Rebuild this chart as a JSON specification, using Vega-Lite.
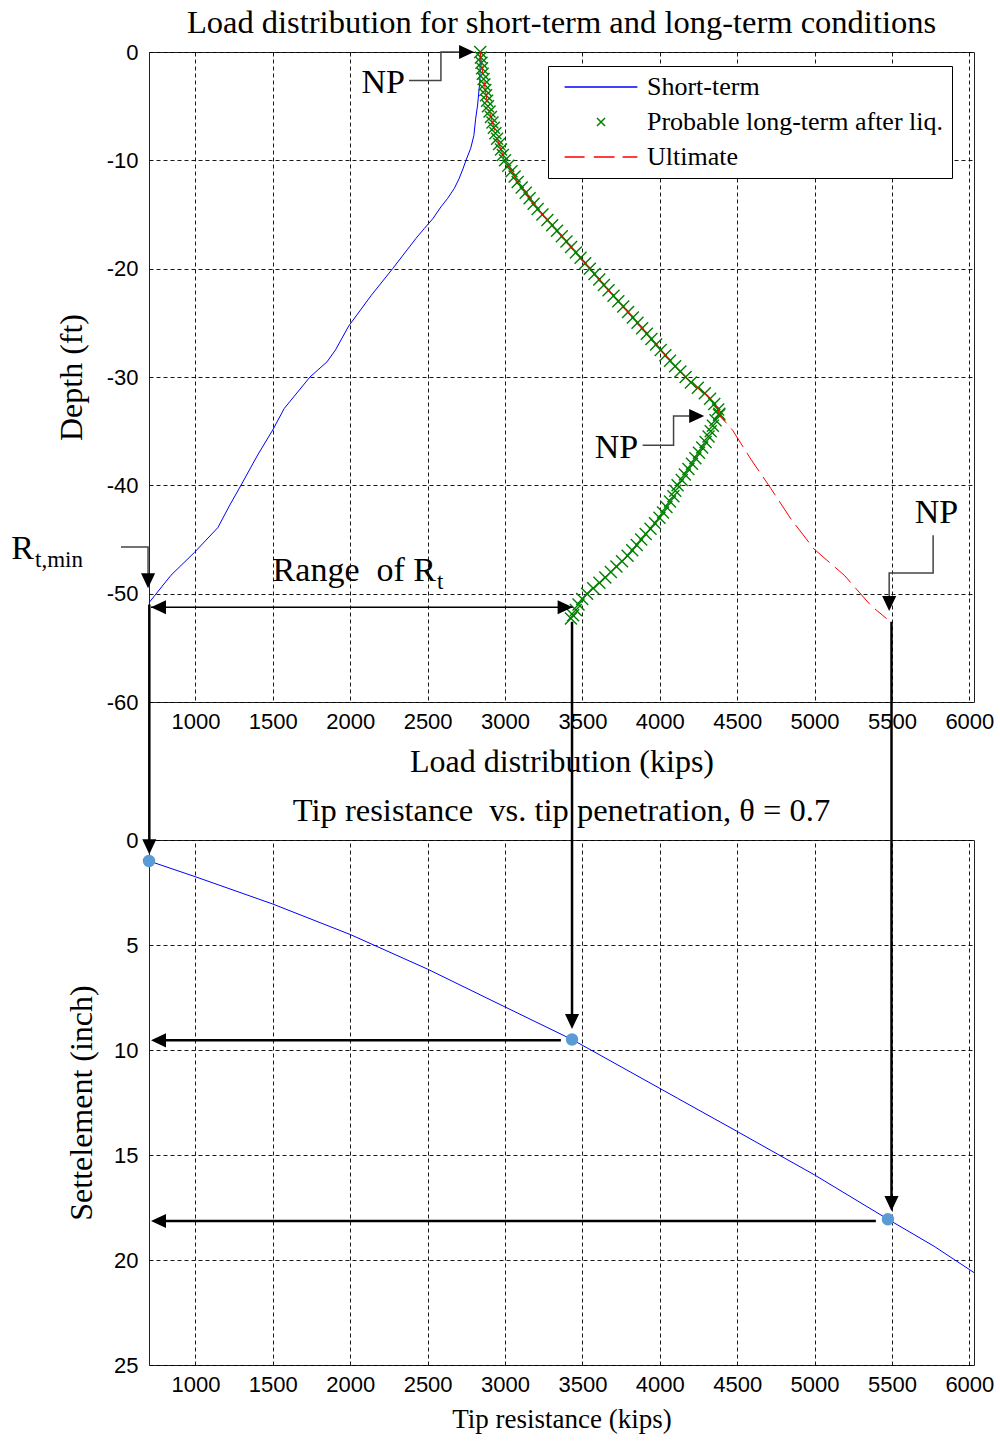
{
  "$schema": "https://vega.github.io/schema/vega-lite/v6.json",
  "background": "white",
  "padding": {"left": 10, "top": 6, "right": 5, "bottom": 5},
  "bounds": "flush",
  "spacing": 138,
  "config": {
    "view": {"stroke": "#222", "strokeWidth": 1},
    "axis": {
      "grid": true, "gridColor": "black", "gridDash": [4, 3], "gridOpacity": 0.9, "gridWidth": 1,
      "domain": false, "ticks": false,
      "labelFont": "Liberation Sans", "labelFontSize": 22, "labelColor": "black", "labelPadding": 9,
      "titleFont": "Liberation Serif", "titleFontSize": 32, "titleFontWeight": "normal", "titleColor": "black"
    },
    "axisY": {"labelPadding": 11},
    "title": {"font": "Liberation Serif", "fontSize": 32.5, "fontWeight": "normal", "color": "black", "offset": 2, "anchor": "middle", "frame": "group"},
    "legend": {
      "orient": "none", "legendX": 399, "legendY": 14,
      "strokeColor": "black", "fillColor": "white", "padding": 8,
      "labelFont": "Liberation Serif", "labelFontSize": 26, "labelColor": "black", "labelLimit": 500,
      "symbolSize": 64, "symbolStrokeWidth": 1.5, "symbolOffset": 32, "labelOffset": 33, "rowPadding": 9
    }
  },
  "datasets": {
    "load": [
      {"series": "Short-term", "kips": 2840, "depth": 0},
      {"series": "Short-term", "kips": 2838, "depth": -2.6},
      {"series": "Short-term", "kips": 2823, "depth": -4.9},
      {"series": "Short-term", "kips": 2810, "depth": -6.2},
      {"series": "Short-term", "kips": 2799, "depth": -7.7},
      {"series": "Short-term", "kips": 2778, "depth": -8.9},
      {"series": "Short-term", "kips": 2748, "depth": -10.0},
      {"series": "Short-term", "kips": 2728, "depth": -10.8},
      {"series": "Short-term", "kips": 2703, "depth": -11.7},
      {"series": "Short-term", "kips": 2672, "depth": -12.6},
      {"series": "Short-term", "kips": 2630, "depth": -13.5},
      {"series": "Short-term", "kips": 2586, "depth": -14.3},
      {"series": "Short-term", "kips": 2533, "depth": -15.4},
      {"series": "Short-term", "kips": 2478, "depth": -16.3},
      {"series": "Short-term", "kips": 2425, "depth": -17.2},
      {"series": "Short-term", "kips": 2371, "depth": -18.2},
      {"series": "Short-term", "kips": 2274, "depth": -20.0},
      {"series": "Short-term", "kips": 2134, "depth": -22.5},
      {"series": "Short-term", "kips": 1990, "depth": -25.3},
      {"series": "Short-term", "kips": 1905, "depth": -27.5},
      {"series": "Short-term", "kips": 1850, "depth": -28.6},
      {"series": "Short-term", "kips": 1740, "depth": -30.0},
      {"series": "Short-term", "kips": 1574, "depth": -32.9},
      {"series": "Short-term", "kips": 1499, "depth": -34.9},
      {"series": "Short-term", "kips": 1402, "depth": -37.2},
      {"series": "Short-term", "kips": 1294, "depth": -40.0},
      {"series": "Short-term", "kips": 1219, "depth": -41.9},
      {"series": "Short-term", "kips": 1145, "depth": -43.9},
      {"series": "Short-term", "kips": 993, "depth": -46.2},
      {"series": "Short-term", "kips": 842, "depth": -48.3},
      {"series": "Short-term", "kips": 702, "depth": -50.8},

      {"series": "Ultimate", "kips": 2840, "depth": 0},
      {"series": "Ultimate", "kips": 2855, "depth": -1.85},
      {"series": "Ultimate", "kips": 2888, "depth": -4.9},
      {"series": "Ultimate", "kips": 2942, "depth": -7.7},
      {"series": "Ultimate", "kips": 2995, "depth": -9.85},
      {"series": "Ultimate", "kips": 3082, "depth": -12.0},
      {"series": "Ultimate", "kips": 3211, "depth": -14.5},
      {"series": "Ultimate", "kips": 3361, "depth": -16.9},
      {"series": "Ultimate", "kips": 3512, "depth": -19.4},
      {"series": "Ultimate", "kips": 3663, "depth": -21.9},
      {"series": "Ultimate", "kips": 3814, "depth": -24.3},
      {"series": "Ultimate", "kips": 3964, "depth": -26.8},
      {"series": "Ultimate", "kips": 4072, "depth": -28.6},
      {"series": "Ultimate", "kips": 4201, "depth": -30.5},
      {"series": "Ultimate", "kips": 4309, "depth": -31.7},
      {"series": "Ultimate", "kips": 4374, "depth": -32.9},
      {"series": "Ultimate", "kips": 4390, "depth": -33.6},
      {"series": "Ultimate", "kips": 4470, "depth": -34.9},
      {"series": "Ultimate", "kips": 4589, "depth": -37.6},
      {"series": "Ultimate", "kips": 4718, "depth": -40.3},
      {"series": "Ultimate", "kips": 4847, "depth": -43.1},
      {"series": "Ultimate", "kips": 4998, "depth": -45.9},
      {"series": "Ultimate", "kips": 5192, "depth": -48.3},
      {"series": "Ultimate", "kips": 5364, "depth": -51.1},
      {"series": "Ultimate", "kips": 5465, "depth": -52.3},

      {"series": "Probable long-term after liq.", "kips": 2840, "depth": 0},
      {"series": "Probable long-term after liq.", "kips": 2844, "depth": -0.5},
      {"series": "Probable long-term after liq.", "kips": 2848, "depth": -1.0},
      {"series": "Probable long-term after liq.", "kips": 2852, "depth": -1.5},
      {"series": "Probable long-term after liq.", "kips": 2856, "depth": -2.0},
      {"series": "Probable long-term after liq.", "kips": 2862, "depth": -2.5},
      {"series": "Probable long-term after liq.", "kips": 2867, "depth": -3.0},
      {"series": "Probable long-term after liq.", "kips": 2873, "depth": -3.5},
      {"series": "Probable long-term after liq.", "kips": 2878, "depth": -4.0},
      {"series": "Probable long-term after liq.", "kips": 2884, "depth": -4.5},
      {"series": "Probable long-term after liq.", "kips": 2890, "depth": -5.0},
      {"series": "Probable long-term after liq.", "kips": 2900, "depth": -5.5},
      {"series": "Probable long-term after liq.", "kips": 2909, "depth": -6.0},
      {"series": "Probable long-term after liq.", "kips": 2919, "depth": -6.5},
      {"series": "Probable long-term after liq.", "kips": 2928, "depth": -7.0},
      {"series": "Probable long-term after liq.", "kips": 2938, "depth": -7.5},
      {"series": "Probable long-term after liq.", "kips": 2949, "depth": -8.0},
      {"series": "Probable long-term after liq.", "kips": 2962, "depth": -8.5},
      {"series": "Probable long-term after liq.", "kips": 2974, "depth": -9.0},
      {"series": "Probable long-term after liq.", "kips": 2986, "depth": -9.5},
      {"series": "Probable long-term after liq.", "kips": 3000, "depth": -10.0},
      {"series": "Probable long-term after liq.", "kips": 3021, "depth": -10.5},
      {"series": "Probable long-term after liq.", "kips": 3042, "depth": -11.0},
      {"series": "Probable long-term after liq.", "kips": 3062, "depth": -11.5},
      {"series": "Probable long-term after liq.", "kips": 3082, "depth": -12.0},
      {"series": "Probable long-term after liq.", "kips": 3108, "depth": -12.5},
      {"series": "Probable long-term after liq.", "kips": 3134, "depth": -13.0},
      {"series": "Probable long-term after liq.", "kips": 3159, "depth": -13.5},
      {"series": "Probable long-term after liq.", "kips": 3185, "depth": -14.0},
      {"series": "Probable long-term after liq.", "kips": 3211, "depth": -14.5},
      {"series": "Probable long-term after liq.", "kips": 3242, "depth": -15.0},
      {"series": "Probable long-term after liq.", "kips": 3274, "depth": -15.5},
      {"series": "Probable long-term after liq.", "kips": 3305, "depth": -16.0},
      {"series": "Probable long-term after liq.", "kips": 3336, "depth": -16.5},
      {"series": "Probable long-term after liq.", "kips": 3367, "depth": -17.0},
      {"series": "Probable long-term after liq.", "kips": 3397, "depth": -17.5},
      {"series": "Probable long-term after liq.", "kips": 3427, "depth": -18.0},
      {"series": "Probable long-term after liq.", "kips": 3458, "depth": -18.5},
      {"series": "Probable long-term after liq.", "kips": 3488, "depth": -19.0},
      {"series": "Probable long-term after liq.", "kips": 3518, "depth": -19.5},
      {"series": "Probable long-term after liq.", "kips": 3548, "depth": -20.0},
      {"series": "Probable long-term after liq.", "kips": 3578, "depth": -20.5},
      {"series": "Probable long-term after liq.", "kips": 3609, "depth": -21.0},
      {"series": "Probable long-term after liq.", "kips": 3639, "depth": -21.5},
      {"series": "Probable long-term after liq.", "kips": 3669, "depth": -22.0},
      {"series": "Probable long-term after liq.", "kips": 3701, "depth": -22.5},
      {"series": "Probable long-term after liq.", "kips": 3732, "depth": -23.0},
      {"series": "Probable long-term after liq.", "kips": 3764, "depth": -23.5},
      {"series": "Probable long-term after liq.", "kips": 3795, "depth": -24.0},
      {"series": "Probable long-term after liq.", "kips": 3826, "depth": -24.5},
      {"series": "Probable long-term after liq.", "kips": 3856, "depth": -25.0},
      {"series": "Probable long-term after liq.", "kips": 3886, "depth": -25.5},
      {"series": "Probable long-term after liq.", "kips": 3916, "depth": -26.0},
      {"series": "Probable long-term after liq.", "kips": 3946, "depth": -26.5},
      {"series": "Probable long-term after liq.", "kips": 3976, "depth": -27.0},
      {"series": "Probable long-term after liq.", "kips": 4006, "depth": -27.5},
      {"series": "Probable long-term after liq.", "kips": 4036, "depth": -28.0},
      {"series": "Probable long-term after liq.", "kips": 4066, "depth": -28.5},
      {"series": "Probable long-term after liq.", "kips": 4099, "depth": -29.0},
      {"series": "Probable long-term after liq.", "kips": 4133, "depth": -29.5},
      {"series": "Probable long-term after liq.", "kips": 4167, "depth": -30.0},
      {"series": "Probable long-term after liq.", "kips": 4201, "depth": -30.5},
      {"series": "Probable long-term after liq.", "kips": 4246, "depth": -31.0},
      {"series": "Probable long-term after liq.", "kips": 4291, "depth": -31.5},
      {"series": "Probable long-term after liq.", "kips": 4325, "depth": -32.0},
      {"series": "Probable long-term after liq.", "kips": 4352, "depth": -32.5},
      {"series": "Probable long-term after liq.", "kips": 4377, "depth": -33.0},
      {"series": "Probable long-term after liq.", "kips": 4385, "depth": -33.4},
      {"series": "Probable long-term after liq.", "kips": 4383, "depth": -33.5},
      {"series": "Probable long-term after liq.", "kips": 4360, "depth": -34.0},
      {"series": "Probable long-term after liq.", "kips": 4343, "depth": -34.5},
      {"series": "Probable long-term after liq.", "kips": 4329, "depth": -35.0},
      {"series": "Probable long-term after liq.", "kips": 4315, "depth": -35.5},
      {"series": "Probable long-term after liq.", "kips": 4296, "depth": -36.0},
      {"series": "Probable long-term after liq.", "kips": 4274, "depth": -36.5},
      {"series": "Probable long-term after liq.", "kips": 4253, "depth": -37.0},
      {"series": "Probable long-term after liq.", "kips": 4230, "depth": -37.5},
      {"series": "Probable long-term after liq.", "kips": 4208, "depth": -38.0},
      {"series": "Probable long-term after liq.", "kips": 4185, "depth": -38.5},
      {"series": "Probable long-term after liq.", "kips": 4162, "depth": -39.0},
      {"series": "Probable long-term after liq.", "kips": 4142, "depth": -39.5},
      {"series": "Probable long-term after liq.", "kips": 4115, "depth": -40.0},
      {"series": "Probable long-term after liq.", "kips": 4100, "depth": -40.5},
      {"series": "Probable long-term after liq.", "kips": 4088, "depth": -41.0},
      {"series": "Probable long-term after liq.", "kips": 4066, "depth": -41.5},
      {"series": "Probable long-term after liq.", "kips": 4043, "depth": -42.0},
      {"series": "Probable long-term after liq.", "kips": 4021, "depth": -42.5},
      {"series": "Probable long-term after liq.", "kips": 3998, "depth": -43.0},
      {"series": "Probable long-term after liq.", "kips": 3969, "depth": -43.5},
      {"series": "Probable long-term after liq.", "kips": 3940, "depth": -44.0},
      {"series": "Probable long-term after liq.", "kips": 3909, "depth": -44.5},
      {"series": "Probable long-term after liq.", "kips": 3880, "depth": -45.0},
      {"series": "Probable long-term after liq.", "kips": 3851, "depth": -45.5},
      {"series": "Probable long-term after liq.", "kips": 3822, "depth": -46.0},
      {"series": "Probable long-term after liq.", "kips": 3792, "depth": -46.5},
      {"series": "Probable long-term after liq.", "kips": 3756, "depth": -47.0},
      {"series": "Probable long-term after liq.", "kips": 3720, "depth": -47.5},
      {"series": "Probable long-term after liq.", "kips": 3684, "depth": -48.0},
      {"series": "Probable long-term after liq.", "kips": 3648, "depth": -48.5},
      {"series": "Probable long-term after liq.", "kips": 3610, "depth": -49.0},
      {"series": "Probable long-term after liq.", "kips": 3570, "depth": -49.5},
      {"series": "Probable long-term after liq.", "kips": 3530, "depth": -50.0},
      {"series": "Probable long-term after liq.", "kips": 3499, "depth": -50.5},
      {"series": "Probable long-term after liq.", "kips": 3475, "depth": -51.0},
      {"series": "Probable long-term after liq.", "kips": 3458, "depth": -51.5},
      {"series": "Probable long-term after liq.", "kips": 3440, "depth": -52.0},
      {"series": "Probable long-term after liq.", "kips": 3426, "depth": -52.3}
    ],
    "connectors": [
      {"id": 1, "o": 1, "kips": 2380, "depth": -2.62},
      {"id": 1, "o": 2, "kips": 2586, "depth": -2.62},
      {"id": 1, "o": 3, "kips": 2586, "depth": 0},
      {"id": 1, "o": 4, "kips": 2785, "depth": 0},
      {"id": 2, "o": 1, "kips": 3889, "depth": -36.3},
      {"id": 2, "o": 2, "kips": 4089, "depth": -36.3},
      {"id": 2, "o": 3, "kips": 4089, "depth": -33.6},
      {"id": 2, "o": 4, "kips": 4270, "depth": -33.6},
      {"id": 3, "o": 1, "kips": 5766, "depth": -44.6},
      {"id": 3, "o": 2, "kips": 5766, "depth": -48.1},
      {"id": 3, "o": 3, "kips": 5482, "depth": -48.1},
      {"id": 3, "o": 4, "kips": 5482, "depth": -50.5},
      {"id": 4, "o": 1, "kips": 519, "depth": -45.7},
      {"id": 4, "o": 2, "kips": 694, "depth": -45.7},
      {"id": 4, "o": 3, "kips": 694, "depth": -48.5}
    ],
    "rangeLine": [{"kips": 713, "kips2": 3437, "depth": -51.25}],
    "drops": [
      {"kips": 702, "depth": -51.0, "depth2": -73.5},
      {"kips": 3433, "depth": -52.6, "depth2": -89.8},
      {"kips": 5497, "depth": -52.6, "depth2": -106.4}
    ],
    "arrowsTop": [
      {"dir": "right", "kips": 2800, "depth": 0},
      {"dir": "right", "kips": 4287, "depth": -33.6},
      {"dir": "right", "kips": 3437, "depth": -51.25},
      {"dir": "left", "kips": 713, "depth": -51.25},
      {"dir": "down", "kips": 5482, "depth": -51.6},
      {"dir": "down", "kips": 694, "depth": -49.5}
    ],
    "bigText": [
      {"text": "NP", "kips": 2354, "depth": -3.76},
      {"text": "NP", "kips": 3861, "depth": -37.49},
      {"text": "NP", "kips": 5928, "depth": -43.46},
      {"text": "R", "kips": -43, "depth": -46.78},
      {"text": "Range\u00a0 of R", "kips": 2554, "depth": -48.79}
    ],
    "subText": [
      {"text": "t,min", "kips": -36, "depth": -47.55},
      {"text": "t", "kips": 2560, "depth": -49.55}
    ],
    "settle": [
      {"kips": 700, "s": 1.0},
      {"kips": 1000, "s": 1.75},
      {"kips": 1500, "s": 3.05},
      {"kips": 2000, "s": 4.5},
      {"kips": 2500, "s": 6.15},
      {"kips": 3000, "s": 7.95},
      {"kips": 3433, "s": 9.5},
      {"kips": 3750, "s": 10.8},
      {"kips": 4115, "s": 12.3},
      {"kips": 4481, "s": 13.8},
      {"kips": 5000, "s": 15.95},
      {"kips": 5474, "s": 18.06},
      {"kips": 5773, "s": 19.35},
      {"kips": 6030, "s": 20.6}
    ],
    "guides": [
      {"kips": 3361, "s": 9.54, "kips2": 760, "s2": 9.54},
      {"kips": 5396, "s": 18.14, "kips2": 760, "s2": 18.14}
    ],
    "tips": [
      {"kips": 700, "s": 1.0},
      {"kips": 3433, "s": 9.5},
      {"kips": 5474, "s": 18.06}
    ],
    "arrowsBottom": [
      {"dir": "down", "kips": 702, "s": 0.68},
      {"dir": "down", "kips": 3433, "s": 9.0},
      {"dir": "down", "kips": 5497, "s": 17.67},
      {"dir": "left", "kips": 713, "s": 9.54},
      {"dir": "left", "kips": 713, "s": 18.14}
    ]
  },
  "vconcat": [
    {
      "width": 825,
      "height": 650,
      "title": {"text": "Load distribution for short-term and long-term conditions"},
      "encoding": {
        "x": {"field": "kips", "type": "quantitative",
          "scale": {"domain": [700, 6030], "nice": false, "zero": false},
          "axis": {"title": "Load distribution (kips)", "titlePadding": 14, "values": [1000, 1500, 2000, 2500, 3000, 3500, 4000, 4500, 5000, 5500, 6000], "labelExpr": "'' + datum.value"}},
        "y": {"field": "depth", "type": "quantitative",
          "scale": {"domain": [-60, 0], "nice": false, "zero": false},
          "axis": {"title": "Depth (ft)", "titlePadding": 18, "values": [-60, -50, -40, -30, -20, -10, 0], "labelExpr": "'' + datum.value"}}
      },
      "layer": [
        {
          "data": {"name": "load"},
          "transform": [{"filter": "datum.series === 'Short-term'"}],
          "mark": {"type": "line", "strokeWidth": 1, "clip": false},
          "encoding": {
            "order": {"field": "depth", "sort": "descending"},
            "color": {"field": "series", "type": "nominal",
              "scale": {"domain": ["Short-term", "Probable long-term after liq.", "Ultimate"], "range": ["#0000ff", "#008000", "#ff0000"]},
              "legend": {"title": null}}
          }
        },
        {
          "data": {"name": "load"},
          "transform": [{"filter": "datum.series === 'Probable long-term after liq.'"}],
          "mark": {"type": "point", "filled": false, "strokeWidth": 1.4, "opacity": 1, "size": 144},
          "encoding": {
            "color": {"field": "series", "type": "nominal",
              "scale": {"domain": ["Short-term", "Probable long-term after liq.", "Ultimate"], "range": ["#0000ff", "#008000", "#ff0000"]},
              "legend": {"title": null}},
            "shape": {"field": "series", "type": "nominal",
              "scale": {"domain": ["Short-term", "Probable long-term after liq.", "Ultimate"],
                "range": ["M-9.1,0H9.1", "M-1,-1L1,1M-1,1L1,-1", "M-9.1,0H-4.1M-1.8,0H3.4M5.4,0H9.1"]},
              "legend": {"title": null}}
          }
        },
        {
          "data": {"name": "load"},
          "transform": [{"filter": "datum.series === 'Ultimate'"}],
          "mark": {"type": "line", "strokeWidth": 1, "strokeDash": [22, 7]},
          "encoding": {
            "order": {"field": "depth", "sort": "descending"},
            "color": {"field": "series", "type": "nominal",
              "scale": {"domain": ["Short-term", "Probable long-term after liq.", "Ultimate"], "range": ["#0000ff", "#008000", "#ff0000"]},
              "legend": {"title": null}}
          }
        },
        {
          "data": {"name": "connectors"},
          "mark": {"type": "line", "color": "#444", "strokeWidth": 1.5, "clip": false},
          "encoding": {
            "detail": {"field": "id", "type": "nominal"},
            "order": {"field": "o", "type": "quantitative"}
          }
        },
        {
          "data": {"name": "rangeLine"},
          "mark": {"type": "rule", "color": "black", "strokeWidth": 1.5},
          "encoding": {"x2": {"field": "kips2"}}
        },
        {
          "data": {"name": "drops"},
          "mark": {"type": "rule", "color": "black", "strokeWidth": 2.5, "clip": false},
          "encoding": {"y2": {"field": "depth2"}}
        },
        {
          "data": {"name": "arrowsTop"},
          "transform": [{"filter": "datum.dir === 'right'"}],
          "mark": {"type": "point", "filled": true, "color": "black", "opacity": 1, "size": 900, "shape": "M0,0L-1,-0.47L-1,0.47Z"}
        },
        {
          "data": {"name": "arrowsTop"},
          "transform": [{"filter": "datum.dir === 'left'"}],
          "mark": {"type": "point", "filled": true, "color": "black", "opacity": 1, "size": 900, "shape": "M0,0L1,-0.47L1,0.47Z"}
        },
        {
          "data": {"name": "arrowsTop"},
          "transform": [{"filter": "datum.dir === 'down'"}],
          "mark": {"type": "point", "filled": true, "color": "black", "opacity": 1, "size": 900, "shape": "M0,0L-0.47,-1L0.47,-1Z"}
        },
        {
          "data": {"name": "bigText"},
          "mark": {"type": "text", "font": "Liberation Serif", "fontSize": 34, "align": "right", "baseline": "alphabetic", "color": "black", "clip": false},
          "encoding": {"text": {"field": "text"}}
        },
        {
          "data": {"name": "subText"},
          "mark": {"type": "text", "font": "Liberation Serif", "fontSize": 23, "align": "left", "baseline": "alphabetic", "color": "black", "clip": false},
          "encoding": {"text": {"field": "text"}}
        }
      ]
    },
    {
      "width": 825,
      "height": 525,
      "title": {"text": "Tip resistance\u00a0 vs. tip penetration, θ = 0.7"},
      "encoding": {
        "x": {"field": "kips", "type": "quantitative",
          "scale": {"domain": [700, 6030], "nice": false, "zero": false},
          "axis": {"title": "Tip resistance (kips)", "titleFontSize": 27, "titlePadding": 11, "values": [1000, 1500, 2000, 2500, 3000, 3500, 4000, 4500, 5000, 5500, 6000], "labelExpr": "'' + datum.value"}},
        "y": {"field": "s", "type": "quantitative",
          "scale": {"domain": [0, 25], "nice": false, "zero": false, "reverse": true},
          "axis": {"title": "Settelement (inch)", "titlePadding": 15, "values": [0, 5, 10, 15, 20, 25], "labelExpr": "'' + datum.value"}}
      },
      "layer": [
        {
          "data": {"name": "settle"},
          "mark": {"type": "line", "color": "#0000ff", "strokeWidth": 1, "clip": false}
        },
        {
          "data": {"name": "guides"},
          "mark": {"type": "rule", "color": "black", "strokeWidth": 2.5, "clip": false},
          "encoding": {"x2": {"field": "kips2"}, "y2": {"field": "s2"}}
        },
        {
          "data": {"name": "tips"},
          "mark": {"type": "point", "filled": true, "color": "#5b9bd5", "opacity": 1, "size": 154, "shape": "circle"}
        },
        {
          "data": {"name": "arrowsBottom"},
          "transform": [{"filter": "datum.dir === 'down'"}],
          "mark": {"type": "point", "filled": true, "color": "black", "opacity": 1, "size": 900, "shape": "M0,0L-0.47,-1L0.47,-1Z", "clip": false}
        },
        {
          "data": {"name": "arrowsBottom"},
          "transform": [{"filter": "datum.dir === 'left'"}],
          "mark": {"type": "point", "filled": true, "color": "black", "opacity": 1, "size": 900, "shape": "M0,0L1,-0.47L1,0.47Z"}
        }
      ]
    }
  ]
}
